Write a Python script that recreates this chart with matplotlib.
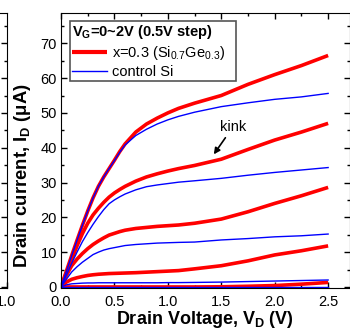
import matplotlib
matplotlib.use('Agg')
import matplotlib.pyplot as plt
from matplotlib.ticker import MultipleLocator

plt.rcParams['font.family'] = ['Liberation Sans', 'DejaVu Sans']
plt.rcParams['mathtext.fontset'] = 'custom'
plt.rcParams['mathtext.rm'] = 'Liberation Sans'
plt.rcParams['mathtext.bf'] = 'Liberation Sans:bold'
plt.rcParams['mathtext.it'] = 'Liberation Sans:italic'

# drain voltage (V)
vd = [0.0, 0.05, 0.1, 0.15, 0.2, 0.25, 0.3, 0.35, 0.4, 0.45, 0.5, 0.55, 0.6,
      0.7, 0.8, 0.9, 1.0, 1.1, 1.25, 1.5, 1.75, 2.0, 2.25, 2.5]

# drain current (uA), Si0.7Ge0.3 channel, VG = 0 .. 2 V
sige_vg0 = [0.0, 0.0, 0.0, 0.0, 0.0, 0.0, 0.0, 0.0, 0.0, 0.0, 0.0, 0.0, 0.0,
            0.0, 0.0, 0.0, 0.0, 0.0, 0.0, 0.05, 0.2, 0.4, 0.8, 1.3]
sige_vg05 = [0.0, 1.4, 2.2, 2.65, 3.0, 3.3, 3.5, 3.65, 3.75, 3.85, 3.9, 3.95, 4.0,
             4.1, 4.25, 4.4, 4.55, 4.7, 5.2, 6.1, 7.5, 9.2, 10.4, 11.8]
sige_vg10 = [0.0, 3.3, 6.1, 8.0, 9.6, 11.0, 12.2, 13.2, 14.1, 14.9, 15.4, 15.9, 16.3,
             16.8, 17.1, 17.4, 17.6, 17.8, 18.3, 19.5, 21.6, 24.0, 26.2, 28.6]
sige_vg15 = [0.0, 4.0, 8.0, 11.8, 15.3, 18.3, 20.7, 22.6, 24.3, 25.8, 27.0, 28.0, 28.9,
             30.4, 31.6, 32.5, 33.3, 34.0, 34.9, 36.7, 39.5, 42.2, 44.5, 47.0]
sige_vg20 = [0.0, 4.5, 9.0, 13.4, 17.7, 21.8, 25.6, 28.9, 31.6, 34.0, 36.4, 38.9, 41.1,
             44.5, 46.8, 48.5, 50.0, 51.3, 52.8, 55.0, 58.2, 61.0, 63.6, 66.5]

# drain current (uA), control Si
si_vg0 = [0.0] * len(vd)
si_vg05 = [0.0, 0.6, 0.9, 1.0, 1.1, 1.15, 1.15, 1.2, 1.2, 1.2, 1.2, 1.2, 1.2,
           1.2, 1.2, 1.2, 1.25, 1.25, 1.3, 1.4, 1.55, 1.7, 1.85, 2.0]
si_vg10 = [0.0, 2.2, 4.3, 5.8, 7.1, 8.2, 9.3, 10.0, 10.6, 11.0, 11.3, 11.6, 11.9,
           12.2, 12.4, 12.6, 12.7, 12.8, 12.9, 13.5, 13.9, 14.4, 14.7, 15.2]
si_vg15 = [0.0, 3.4, 6.8, 10.0, 13.0, 15.6, 18.0, 20.2, 22.2, 23.9, 25.0, 25.9, 26.7,
           27.9, 28.8, 29.3, 29.7, 30.1, 30.5, 31.2, 32.1, 32.9, 33.6, 34.3]
si_vg20 = [0.0, 4.5, 9.0, 13.4, 17.7, 21.8, 25.6, 28.9, 31.6, 34.0, 36.3, 38.7, 40.8,
           43.5, 45.3, 46.8, 48.0, 49.0, 50.2, 51.8, 52.9, 53.9, 54.6, 55.6]

sige_curves = [sige_vg0, sige_vg05, sige_vg10, sige_vg15, sige_vg20]
si_curves = [si_vg0, si_vg05, si_vg10, si_vg15, si_vg20]

W, H = 350, 330
fig = plt.figure(figsize=(W / 100, H / 100), dpi=100)

# neighbouring panel, only its right edge is on the canvas
axl = fig.add_axes([-0.5, 42 / H, 0.5 + 6.5 / W, 275 / H])
axl.set_xlim(0, 1.0)
axl.set_ylim(-0.3, 78.7)
axl.set_xticks([0.0, 0.5, 1.0])
axl.set_xticklabels(['0.0', '0.5', '1.0'])
axl.yaxis.set_major_locator(MultipleLocator(10))
axl.yaxis.set_minor_locator(MultipleLocator(5))
axl.tick_params(which='both', direction='in', right=True, left=False, labelleft=False,
                labelsize=10.5, pad=5, width=1)
axl.tick_params(which='major', length=4)
axl.tick_params(which='minor', length=2)

ax = fig.add_axes([61 / W, 42 / H, 288.5 / W, 275 / H])

for i, cur in enumerate(sige_curves):
    ax.plot(vd, cur, color='#ff0000', lw=2.6, solid_capstyle='butt',
            label='x=0.3 (Si$_\\mathrm{0.7}$Ge$_\\mathrm{0.3}$)' if i == 0 else None)
for i, cur in enumerate(si_curves):
    ax.plot(vd, cur, color='#0000ff', lw=1.0,
            label='control Si' if i == 0 else None)

ax.set_xlim(0, 2.7)
ax.set_ylim(-0.3, 78.7)
ax.xaxis.set_major_locator(MultipleLocator(0.5))
ax.xaxis.set_minor_locator(MultipleLocator(0.25))
ax.yaxis.set_major_locator(MultipleLocator(10))
ax.yaxis.set_minor_locator(MultipleLocator(5))
ax.set_xticks([0, 0.5, 1.0, 1.5, 2.0, 2.5])
ax.set_xticklabels(['0.0', '0.5', '1.0', '1.5', '2.0', '2.5'])
ax.tick_params(which='both', direction='in', top=True, right=True, labelsize=10.5, width=1)
ax.tick_params(axis='x', pad=5)
ax.tick_params(axis='y', pad=3)
ax.tick_params(which='major', length=4)
ax.tick_params(which='minor', length=2)

ax.set_xlabel('Drain Voltage, V$_\\mathbf{D}$ (V)', fontsize=13, fontweight='bold', labelpad=0)
ax.set_ylabel('Drain current, I$_\\mathbf{D}$ ($\\mathbf{\\mu}$A)', fontsize=13.3, fontweight='bold')
ax.yaxis.set_label_coords(-0.097, 0.41)

ax.annotate('kink', xy=(1.43, 38.1), xytext=(1.61, 46), ha='center', va='center', fontsize=10.5,
            arrowprops=dict(arrowstyle='-|>', color='k', lw=1.2, mutation_scale=9, shrinkA=1, shrinkB=0))

leg = ax.legend(loc='upper left', bbox_to_anchor=(0.031, 0.0, 0.575, 0.971), mode='expand',
                borderaxespad=0, title='V$_\\mathbf{G}$=0~2V (0.5V step)',
                title_fontproperties={'weight': 'bold', 'size': 10.5},
                alignment='left', fontsize=10.5, handlelength=2.4, handletextpad=0.3,
                labelspacing=0.2, borderpad=0.15, fancybox=False, framealpha=1)
leg.get_frame().set_edgecolor('#555555')
leg.get_frame().set_linewidth(1.2)
leg.legend_handles[0].set_linewidth(3)

fig.savefig('out.png', dpi=100)
